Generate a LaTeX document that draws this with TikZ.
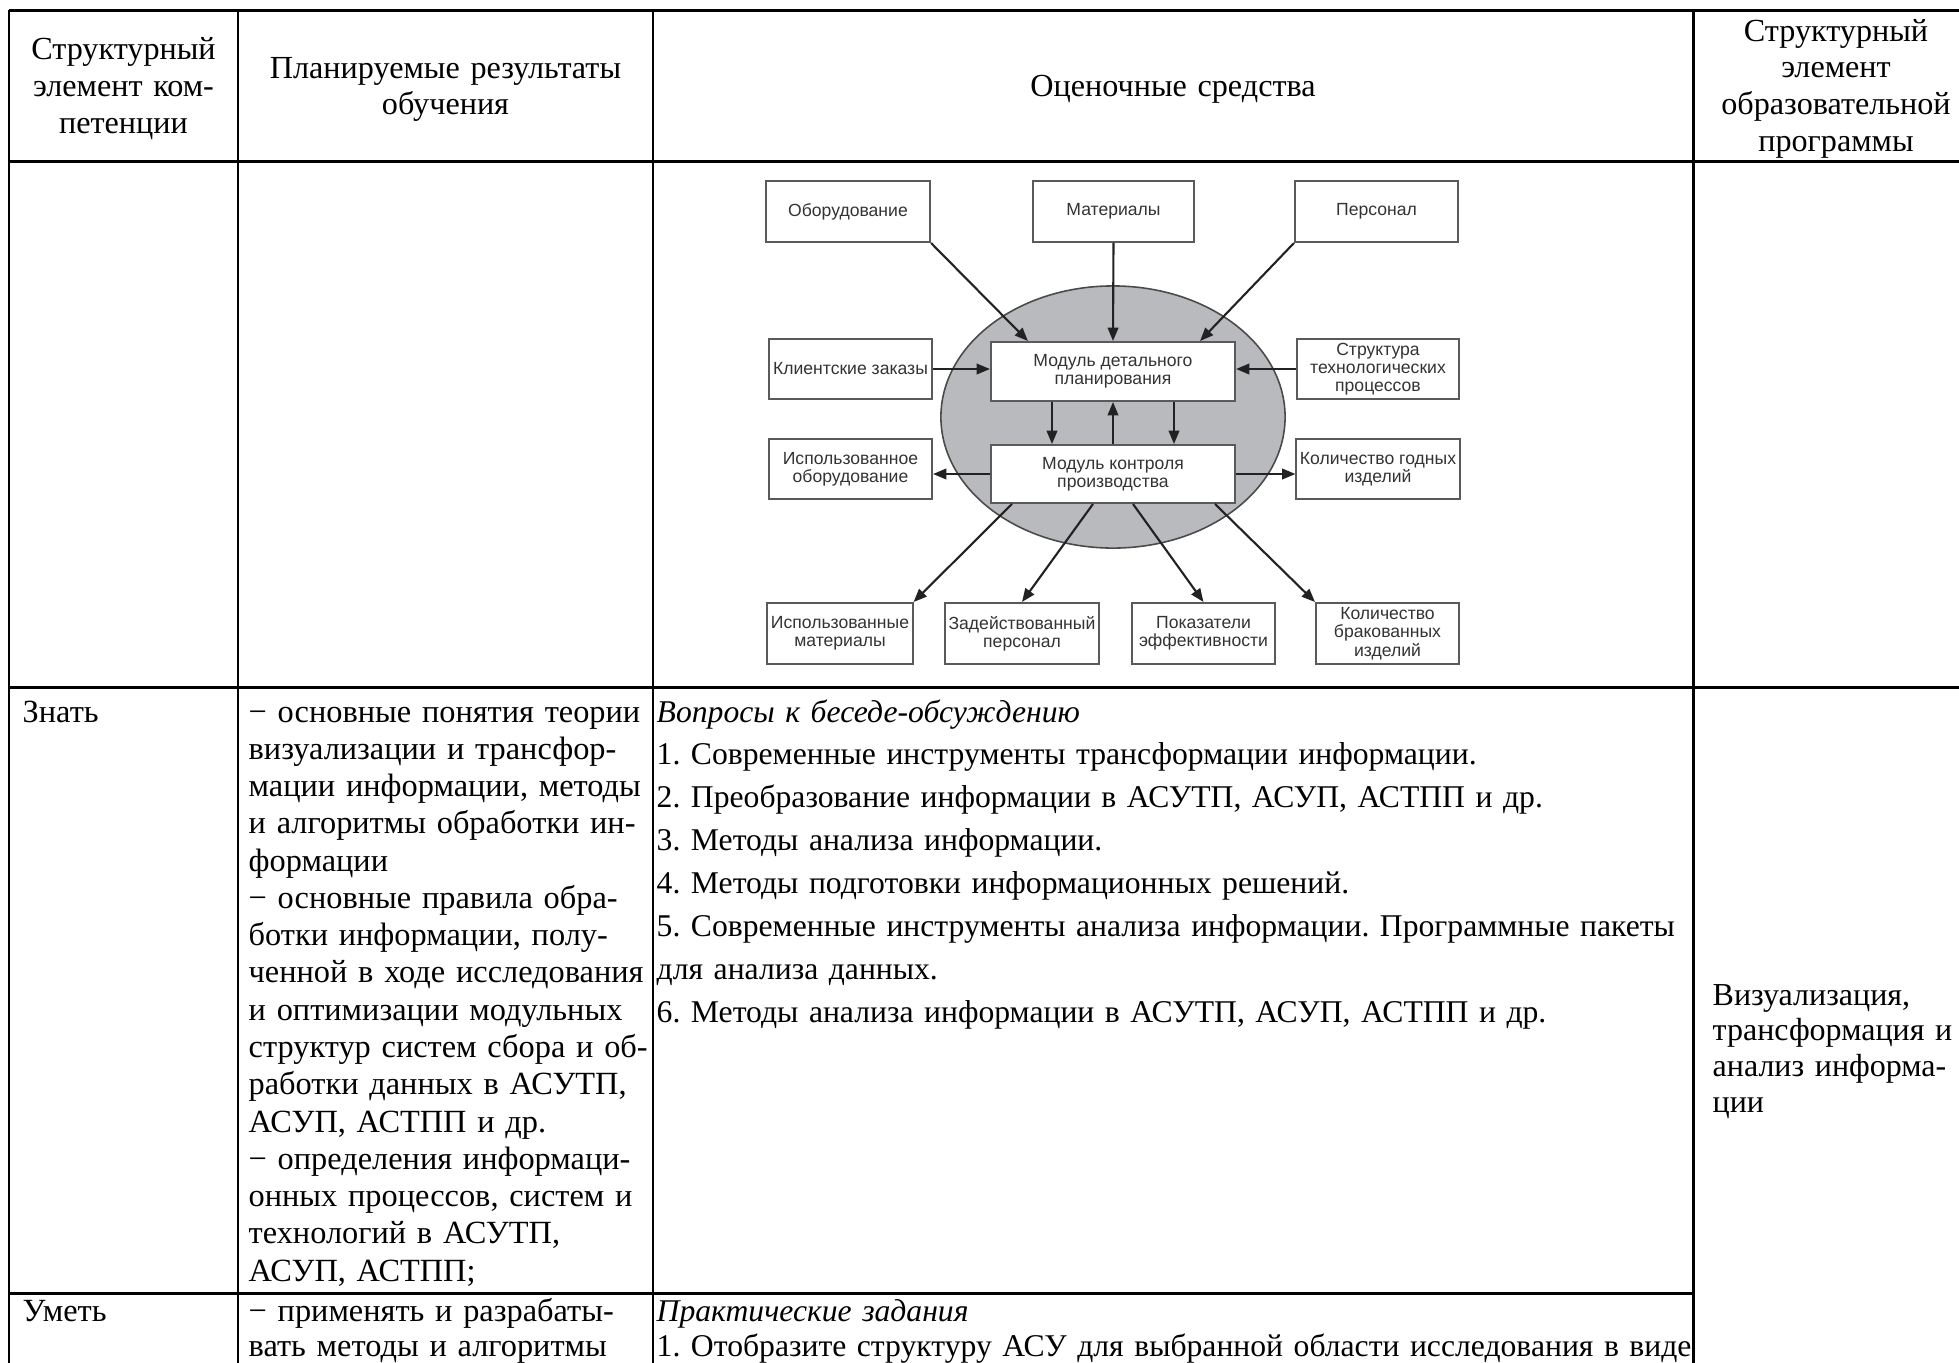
\documentclass[tikz,border=0pt]{standalone}
\usepackage{fontspec}
\setmainfont{Liberation Serif}
\setsansfont{Liberation Sans}
\usetikzlibrary{arrows.meta,calc}

\definecolor{boxline}{HTML}{5A5A5A}
\definecolor{boxtext}{HTML}{333333}
\definecolor{discfill}{HTML}{B9BABD}
\definecolor{discline}{HTML}{4A4A4A}
\definecolor{arrowcol}{HTML}{222222}

% one justified line of a cell
\newcommand{\jl}[1]{\makebox[\linewidth][s]{#1}}
\frenchspacing

\begin{document}
\begin{tikzpicture}[
  x=0.01cm, y=-0.01cm,
  >={Triangle[length=3.8pt,width=3pt]},
  rule/.style={line width=0.85pt, black},
  hdr/.style={font=\fontsize{9.15}{10.5}\selectfont, align=center, inner sep=0pt, anchor=base},
  body/.style={font=\fontsize{9.2}{10.6}\selectfont, align=left, inner sep=0pt, anchor=base west},
  tasks/.style={font=\fontsize{9.0}{12.2}\selectfont, align=left, inner sep=0pt, anchor=base west},
  blk/.style={draw=boxline, line width=0.55pt, fill=white, text=boxtext,
    font=\sffamily\fontsize{5}{5.2}\selectfont, align=center, inner sep=1pt},
  arr/.style={->, line width=0.6pt, arrowcol}
]
  \useasboundingbox (0,0) rectangle (1959,1363);

  % table rules
  \draw[rule] (9,10) -- (1959,10);
  \draw[rule] (9,161) -- (1959,161);
  \draw[rule] (9,687) -- (1959,687);
  \draw[rule] (9,1293) -- (1693,1293);
  \draw[rule] (9,10) -- (9,1363);
  \draw[rule] (238,10) -- (238,1363);
  \draw[rule] (653,10) -- (653,1363);
  \draw[rule] (1693,10) -- (1693,1363);

  % header
  \node[hdr, text width=2.2cm] (h1) at (123.5,59.5) {Структурный\\элемент ком-\\петенции};
  \node[hdr, text width=3.9cm] (h2) at (445.5,78) {Планируемые результаты\\обучения};
  \node[hdr, text width=6cm] (h3) at (1173,96.5) {Оценочные средства};
  \node[hdr, text width=2.6cm] (h4) at (1836,41) {Структурный\\элемент\\образовательной\\программы};

  % scheme in the second row
  \draw[fill=discfill, draw=discline, line width=0.45pt] (1113,417) ellipse [x radius=1.72cm, y radius=1.31cm];

  \node[blk, minimum width=1.64cm, minimum height=0.61cm] (obor) at (848,211.5) {Оборудование};
  \node[blk, minimum width=1.61cm, minimum height=0.61cm] (mat) at (1113.5,211.5) {Материалы};
  \node[blk, minimum width=1.63cm, minimum height=0.61cm] (pers) at (1376.5,211.5) {Персонал};
  \node[blk, minimum width=1.63cm, minimum height=0.60cm] (klient) at (850.5,369) {Клиентские заказы};
  \node[blk, minimum width=2.44cm, minimum height=0.59cm] (plan) at (1113,371.5) {Модуль детального\\планирования};
  \node[blk, minimum width=1.62cm, minimum height=0.60cm] (struct) at (1378,369) {Структура\\технологических\\процессов};
  \node[blk, minimum width=1.63cm, minimum height=0.60cm] (isob) at (850.5,469) {Использованное\\оборудование};
  \node[blk, minimum width=2.44cm, minimum height=0.58cm] (kontr) at (1113,474) {Модуль контроля\\производства};
  \node[blk, minimum width=1.62cm, minimum height=0.60cm] (kolgod) at (1378,469) {Количество годных\\изделий};
  \node[blk, minimum width=1.42cm, minimum height=0.61cm] (ismat) at (840,633.5) {Использованные\\материалы};
  \node[blk, minimum width=1.42cm, minimum height=0.61cm] (zadper) at (1022,633.5) {Задействованный\\персонал};
  \node[blk, minimum width=1.43cm, minimum height=0.61cm] (pokaz) at (1203.5,633.5) {Показатели\\эффективности};
  \node[blk, minimum width=1.43cm, minimum height=0.61cm] (kolbrak) at (1387.5,633.5) {Количество\\бракованных\\изделий};

  \draw[arr] (obor.south east) -- ($(plan.north west)+(38,0)$);
  \draw[arr] (mat.south) -- (plan.north);
  \draw[arr] (pers.south west) -- ($(plan.north east)+(-36,0)$);
  \draw[arr] (klient.east) -- (klient.east -| plan.west);
  \draw[arr] (struct.west) -- (struct.west -| plan.east);
  \draw[arr] ($(plan.south)+(-61,0)$) -- ($(kontr.north)+(-61,0)$);
  \draw[arr] (kontr.north) -- (plan.south);
  \draw[arr] ($(plan.south)+(61,0)$) -- ($(kontr.north)+(61,0)$);
  \draw[arr] (kontr.west) -- (kontr.west -| isob.east);
  \draw[arr] (kontr.east) -- (kontr.east -| kolgod.west);
  \draw[arr] ($(kontr.south)+(-101,0)$) -- (ismat.north east);
  \draw[arr] ($(kontr.south)+(-20,0)$) -- (zadper.north);
  \draw[arr] ($(kontr.south)+(20,0)$) -- (pokaz.north);
  \draw[arr] ($(kontr.south)+(102,0)$) -- (kolbrak.north west);

  % row "Знать"
  \node[body] (zn) at (22,722) {Знать};
  \node[body, text width=3.95cm] (znres) at (248,722) {%
    \jl{− основные понятия теории}\\
    \jl{визуализации и трансфор-}\\
    \jl{мации информации, методы}\\
    \jl{и алгоритмы обработки ин-}\\
    формации\\
    \jl{− основные правила обра-}\\
    \jl{ботки информации, полу-}\\
    \jl{ченной в ходе исследования}\\
    \jl{и оптимизации модульных}\\
    \jl{структур систем сбора и об-}\\
    \jl{работки данных в АСУТП,}\\
    АСУП, АСТПП и др.\\
    \jl{− определения информаци-}\\
    \jl{онных процессов, систем и}\\
    \jl{технологий в АСУТП,}\\
    АСУП, АСТПП;};
  \node[tasks, text width=10.33cm] (znsred) at (656,722) {%
    \textit{Вопросы к беседе-обсуждению}\\
    1. Современные инструменты трансформации информации.\\
    2. Преобразование информации в АСУТП, АСУП, АСТПП и др.\\
    3. Методы анализа информации.\\
    4. Методы подготовки информационных решений.\\
    \jl{5. Современные инструменты анализа информации. Программные пакеты}\\
    для анализа данных.\\
    6. Методы анализа информации в АСУТП, АСУП, АСТПП и др.};
  \node[tasks, font=\fontsize{9.1}{10.2}\selectfont, text width=2.6cm] (prog) at (1712,1005) {%
    Визуализация,\\трансформация и\\анализ информа-\\ции};

  % row "Уметь"
  \node[body] (um) at (22,1321) {Уметь};
  \node[body, font=\fontsize{9.2}{9.96}\selectfont, text width=3.95cm] (umres) at (248,1321) {%
    \jl{− применять и разрабаты-}\\
    \jl{вать методы и алгоритмы}};
  \node[tasks, font=\fontsize{9.0}{9.96}\selectfont, text width=10.33cm] (umsred) at (656,1321) {%
    \textit{Практические задания}\\
    \jl{1. Отобразите структуру АСУ для выбранной области исследования в виде}};
\end{tikzpicture}
\end{document}
